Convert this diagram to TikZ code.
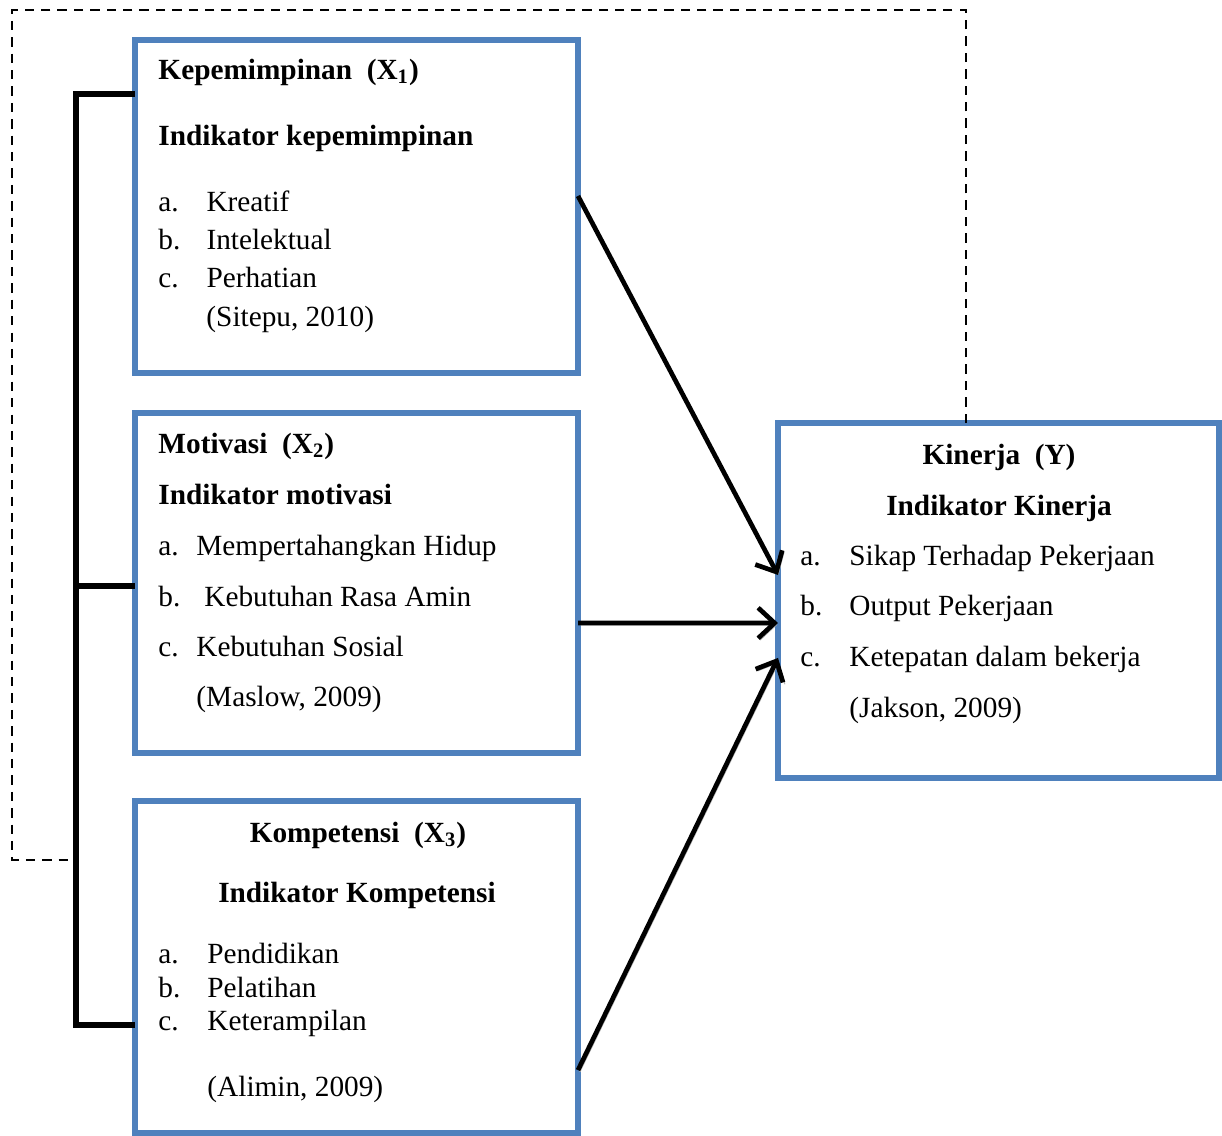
\documentclass[tikz,border=0pt]{standalone}
\usepackage{fontspec}
\setmainfont{Liberation Serif}
\usetikzlibrary{arrows.meta}
\definecolor{boxblue}{RGB}{79,129,189}
\newcommand{\itemlbl}[2][20.5pt]{\makebox[#1][l]{#2}}

\begin{document}
\begin{tikzpicture}[x=0.015cm, y=-0.015cm,
    box/.style={draw=boxblue, line width=2.4pt, rectangle, inner sep=0pt, outer sep=0pt, minimum width=6.645cm},
    txt/.style={anchor=base west, inner sep=0pt, font=\fontsize{12.5}{15}\selectfont},
    hd/.style={anchor=base west, inner sep=0pt, font=\fontsize{12.5}{15}\selectfont\bfseries},
    hdc/.style={hd, anchor=base},
    bracket/.style={line width=2.5pt, line join=miter},
    link/.style={line width=2pt, -{Straight Barb[length=7pt, width=13pt]},
        preaction={draw=black!30, transform canvas={shift={(0.8pt,-0.8pt)}}}},
    feedback/.style={line width=1pt, dash pattern=on 4pt off 3pt}]
    \useasboundingbox (0,0) rectangle (1222,1135);

    % Variable boxes
    \node[box, minimum height=4.995cm] (lead) at (356.5,206.5) {};
    \node[box, minimum height=5.1cm] (mot) at (356.5,583) {};
    \node[box, minimum height=4.98cm] (comp) at (356.5,967) {};
    \node[box, minimum width=6.615cm, minimum height=5.325cm] (kin) at (998.5,600.5) {};

    % Kepemimpinan
    \node[hd] (lead-t) at (158,79) {Kepemimpinan\ \ (X\textsubscript{1})};
    \node[hd] (lead-i) at (158,145) {Indikator kepemimpinan};
    \node[txt] (lead-a) at (158,211) {\itemlbl{a.}Kreatif};
    \node[txt] (lead-b) at (158,249) {\itemlbl{b.}Intelektual};
    \node[txt] (lead-c) at (158,287) {\itemlbl{c.}Perhatian};
    \node[txt] (lead-s) at (206,326) {(Sitepu, 2010)};

    % Motivasi
    \node[hd] (mot-t) at (158,453) {Motivasi\ \ (X\textsubscript{2})};
    \node[hd] (mot-i) at (158,504) {Indikator motivasi};
    \node[txt] (mot-a) at (158,555) {\itemlbl[16.2pt]{a.}Mempertahangkan Hidup};
    \node[txt] (mot-b) at (158,606) {\itemlbl[19.6pt]{b.}Kebutuhan Rasa Amin};
    \node[txt] (mot-c) at (158,656) {\itemlbl[16.2pt]{c.}Kebutuhan Sosial};
    \node[txt] (mot-s) at (196,706) {(Maslow, 2009)};

    % Kompetensi
    \node[hdc] (comp-t) at (358,842) {Kompetensi\ \ (X\textsubscript{3})};
    \node[hdc] (comp-i) at (357,902) {Indikator Kompetensi};
    \node[txt] (comp-a) at (158,963) {\itemlbl[20.9pt]{a.}Pendidikan};
    \node[txt] (comp-b) at (158,997) {\itemlbl[20.9pt]{b.}Pelatihan};
    \node[txt] (comp-c) at (158,1030) {\itemlbl[20.9pt]{c.}Keterampilan};
    \node[txt] (comp-s) at (207,1096) {(Alimin, 2009)};

    % Kinerja
    \node[hdc] (kin-t) at (999,464) {Kinerja\ \ (Y)};
    \node[hdc] (kin-i) at (999,515) {Indikator Kinerja};
    \node[txt] (kin-a) at (800,565) {\itemlbl[20.9pt]{a.}Sikap Terhadap Pekerjaan};
    \node[txt] (kin-b) at (800,615) {\itemlbl[20.9pt]{b.}Output Pekerjaan};
    \node[txt] (kin-c) at (800,666) {\itemlbl[20.9pt]{c.}Ketepatan dalam bekerja};
    \node[txt] (kin-s) at (849,717) {(Jakson, 2009)};

    % Bracket joining the three X boxes
    \draw[bracket] ([yshift=48pt]lead.west) -- ++(-59,0) |- ([yshift=-24.8pt]comp.west);
    \draw[bracket] ([yshift=-1.3pt]mot.west) -- ++(-59,0);

    % Simultaneous effect (dashed)
    \coordinate (fbtop) at (12,10);
    \coordinate (fbjoin) at (75,860);
    \draw[feedback] ([xshift=-13.9pt]kin.north) |- (fbtop) |- (fbjoin);

    % Partial effects
    \draw[link] ([yshift=4.5pt]lead.east) -- ([yshift=10.9pt]kin.west);
    \draw[link] ([yshift=-17.1pt]mot.east) -- ([yshift=-9.6pt]kin.west);
    \draw[link] ([yshift=-44pt]comp.east) -- ([yshift=-24.5pt]kin.west);
\end{tikzpicture}
\end{document}
